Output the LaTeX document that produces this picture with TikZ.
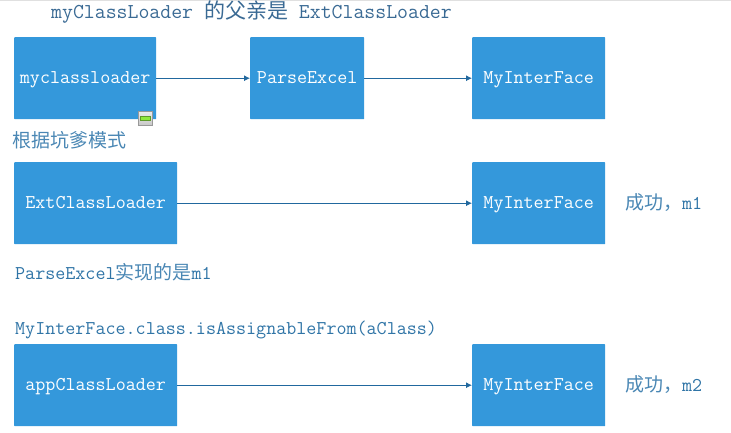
\documentclass[tikz,border=0pt]{standalone}
\usepackage{fontspec}
\newfontfamily\cj{Noto Sans CJK SC}
\usetikzlibrary{arrows.meta}
\definecolor{boxblue}{HTML}{3498DB}
\definecolor{linkblue}{HTML}{21689E}
\definecolor{txtblue}{HTML}{2F74A6}
\definecolor{cjblue}{HTML}{4A87B4}
\definecolor{titleblue}{HTML}{3A6A94}
\definecolor{iconfill}{HTML}{8FE83C}
\definecolor{iconline}{HTML}{5E9A2A}
\newcommand{\tsize}{\fontsize{19.5}{22}\selectfont\ttfamily}
\newcommand{\cjt}[1]{{\cj\color{cjblue}\fontsize{19}{22}\selectfont #1}}
\tikzset{
  bluebox/.style={fill=boxblue,rounded corners=0.6pt,inner sep=0pt,text=white,font=\tsize,anchor=north west,minimum height=82pt,align=center,text height=14pt,text depth=3pt},
  link/.style={draw=linkblue,line width=0.9pt,-{Latex[length=6pt,width=6pt]}},
  note/.style={text=txtblue,font=\tsize,anchor=base west,inner sep=0pt},
}
\begin{document}
\begin{tikzpicture}[x=1pt,y=-1pt]
\useasboundingbox (0,0) rectangle (731,432);
\fill[black!12] (0,0) rectangle (731,0.8);
\node[bluebox,minimum width=142pt] (a1) at (14,37) {myclassloader};
\node[bluebox,minimum width=114pt] (a2) at (250,37) {ParseExcel};
\node[bluebox,minimum width=133pt] (a3) at (472,37) {MyInterFace};
\node[bluebox,minimum width=163pt] (b1) at (14,162) {ExtClassLoader};
\node[bluebox,minimum width=133pt] (b2) at (472,162) {MyInterFace};
\node[bluebox,minimum width=163pt] (c1) at (14,344) {appClassLoader};
\node[bluebox,minimum width=133pt] (c2) at (472,344) {MyInterFace};
\draw[link] (a1) -- (a2);
\draw[link] (a2) -- (a3);
\draw[link] (b1) -- (b2);
\draw[link] (c1) -- (c2);
\node[note,text=titleblue,font=\fontsize{21.2}{24}\selectfont\ttfamily] (t0) at (51,18) {myClassLoader {\cj\fontsize{21}{24}\selectfont 的父亲是} ExtClassLoader};
\node[note] (t1) at (12,147) {\cjt{根据坑爹模式}};
\node[note] (t2) at (15,279.5) {ParseExcel\cjt{实现的是}m1};
\node[note] (t3) at (15,334) {MyInterFace.class.isAssignableFrom(aClass)};
\node[note] (t4) at (625,209) {\cjt{成功，}m1};
\node[note] (t5) at (625,391) {\cjt{成功，}m2};
% collapse icon
\shade[top color=white!92!black,bottom color=black!22,draw=black!40,line width=0.8pt] (138.5,111.5) rectangle (152.5,125.5);
\fill[fill=iconfill,draw=iconline,line width=0.5pt] (140.5,116.5) rectangle (150.5,120.5);
\end{tikzpicture}
\end{document}
